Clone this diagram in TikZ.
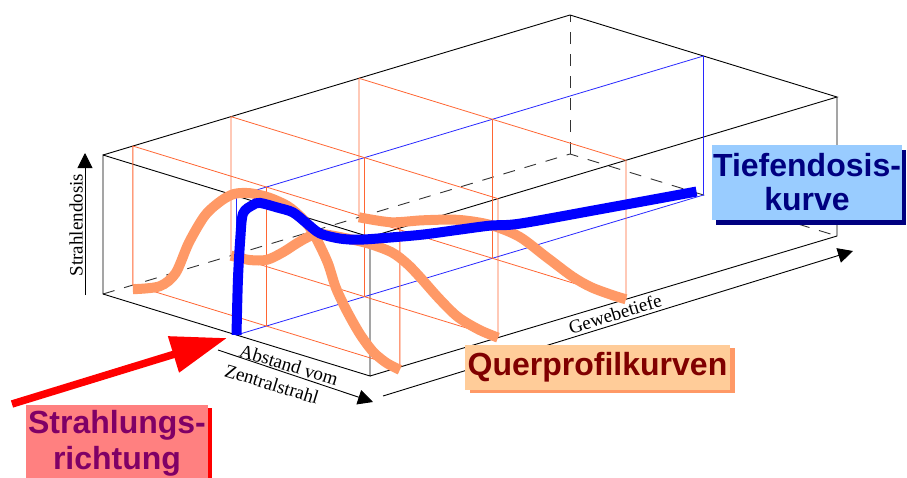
\documentclass[tikz,border=0pt]{standalone}
\usepackage{fontspec}
\setmainfont{Liberation Serif}
\newfontfamily\tagfont{Liberation Sans}
\usetikzlibrary{arrows.meta,shadows}

\definecolor{profile}{RGB}{255,153,102}
\definecolor{cutline}{RGB}{255,102,51}
\definecolor{planeblue}{RGB}{40,40,255}
\definecolor{querfill}{RGB}{255,204,153}
\definecolor{quertext}{RGB}{128,0,0}
\definecolor{tiefefill}{RGB}{153,204,255}
\definecolor{tiefetext}{RGB}{0,0,128}
\definecolor{strahlfill}{RGB}{255,128,128}
\definecolor{strahltext}{RGB}{128,0,102}

\begin{document}
\begin{tikzpicture}[
  x=1pt, y=-1pt,
  edge/.style={black, line width=0.9pt},
  hidden/.style={black!80, line width=0.9pt, dash pattern=on 12pt off 10pt},
  cutplane/.style={cutline, line width=0.8pt},
  axisplane/.style={planeblue, line width=0.8pt},
  profilecurve/.style={profile, line width=10pt},
  dosecurve/.style={blue, line width=10pt},
  axis/.style={black, line width=0.9pt, -{Triangle[length=15pt, width=15pt]}},
  axislabel/.style={font=\fontsize{19}{21}\selectfont, inner sep=0pt},
  tag/.style={font=\tagfont\bfseries\fontsize{32}{34}\selectfont, align=center, inner sep=0pt},
  beam/.style={red, line width=7.5pt, -{Triangle[length=56pt, width=36pt]}}
]
\useasboundingbox (0,0) rectangle (907,477);

% phantom in its own frame: x across the beam, y dose, z depth
\begin{scope}[shift={(103,294)}, x={(267pt,-82pt)}, y={(0pt,139pt)}, z={(467pt,140pt)}]
  \coordinate (flb) at (0,0,0);
  \coordinate (frb) at (1,0,0);
  \coordinate (flt) at (0,1,0);
  \coordinate (frt) at (1,1,0);
  \coordinate (blb) at (0,0,1);
  \coordinate (brb) at (1,0,1);
  \coordinate (blt) at (0,1,1);
  \coordinate (brt) at (1,1,1);

  % hidden edges
  \draw[hidden] (flb) -- (blb) -- (brb);
  \draw[hidden] (blb) -- (blt);
  \draw[edge] (flb) -- (frb) -- (frt) -- (flt) -- cycle;
  \draw[edge] (flt) -- (blt) -- (brt) -- (frt);
  \draw[edge] (brt) -- (brb) -- (frb);

  % central plane along the beam
  \draw[axisplane] (0.5,0,0) -- (0.5,0,1) -- (0.5,1,1) -- (0.5,1,0) -- cycle;

  % cross sections
  \foreach \d in {0.064,0.274,0.548} {
    \draw[cutplane] (0,0,\d) -- (1,0,\d) -- (1,1,\d) -- (0,1,\d) -- cycle;
    \draw[cutplane] (0.5,0,\d) -- (0.5,1,\d);
  }

  \draw[profilecurve] plot[smooth] coordinates {(0,0,0.548) (0.12,0.035,0.548) (0.24,0.12,0.548)
    (0.37,0.2,0.548) (0.49,0.235,0.548) (0.6,0.215,0.548) (0.7,0.13,0.548) (0.8,0.045,0.548)
    (0.87,0.01,0.548) (0.95,0,0.548) (1,0,0.548)};
  \draw[profilecurve] plot[smooth] coordinates {(0,0,0.274) (0.07,0.01,0.274) (0.135,0.05,0.274)
    (0.195,0.14,0.274) (0.25,0.24,0.274) (0.3,0.32,0.274) (0.35,0.36,0.274) (0.5,0.39,0.274)
    (0.6,0.38,0.274) (0.66,0.33,0.274) (0.71,0.26,0.274) (0.78,0.15,0.274) (0.85,0.06,0.274)
    (0.93,0.015,0.274) (1,0,0.274)};
  \draw[profilecurve] plot[smooth] coordinates {(0,-0.03,0.064) (0.1,0.05,0.064) (0.16,0.18,0.064)
    (0.21,0.43,0.064) (0.27,0.66,0.064) (0.33,0.8,0.064) (0.38,0.88,0.064) (0.44,0.92,0.064)
    (0.51,0.93,0.064) (0.58,0.91,0.064) (0.63,0.86,0.064) (0.66,0.81,0.064) (0.69,0.73,0.064)
    (0.73,0.59,0.064) (0.76,0.43,0.064) (0.8,0.29,0.064) (0.85,0.15,0.064) (0.9,0.05,0.064)
    (0.95,0,0.064) (1,-0.02,0.064)};

  % depth dose along the central ray
  \draw[dosecurve] plot[smooth, tension=0.5] coordinates {(0.5,0,0) (0.5,0.39,0.003)
    (0.5,0.68,0.008) (0.5,0.86,0.014) (0.5,0.9,0.035) (0.5,0.9,0.05) (0.5,0.83,0.087)
    (0.5,0.76,0.121) (0.5,0.65,0.151) (0.5,0.55,0.179) (0.5,0.47,0.222) (0.5,0.42,0.264)
    (0.5,0.37,0.329) (0.5,0.32,0.4) (0.5,0.28,0.472) (0.5,0.24,0.543) (0.5,0.19,0.607)
    (0.5,0.12,0.78) (0.5,0.04,0.985)};
\end{scope}

% axes
\coordinate (doseA) at (85,295);
\coordinate (doseB) at (85,153);
\draw[axis] (doseA) -- (doseB);
\node[axislabel, rotate=90] (doselabel) at (76,225) {Strahlendosis};

\coordinate (latA) at (218,350);
\coordinate (latB) at (373,402);
\draw[axis] (latA) -- (latB);
\node[axislabel, rotate=-17, anchor=base] (latlabelA) at (287,371) {Abstand vom};
\node[axislabel, rotate=-17] (latlabelB) at (272,384) {Zentralstrahl};

\coordinate (depthA) at (383,396);
\coordinate (depthB) at (853,251);
\draw[axis] (depthA) -- (depthB);
\node[axislabel, rotate=17, anchor=base] (depthlabel) at (617,320) {Gewebetiefe};

% beam direction
\coordinate (beamA) at (12,404);
\coordinate (beamB) at (227,338);
\draw[beam] (beamA) -- (beamB);

% captions
\node[tag, fill=tiefefill, text=tiefetext, minimum width=190pt, minimum height=75pt,
  drop shadow={shadow xshift=4pt, shadow yshift=-5pt, fill=tiefetext, opacity=1}]
  (tiefe) at (807,182.5) {Tiefendosis-\\kurve};
\node[tag, fill=querfill, text=quertext, minimum width=265pt, minimum height=45pt,
  drop shadow={shadow xshift=5pt, shadow yshift=-3pt, fill=profile, opacity=1}]
  (quer) at (597.5,367.5) {Querprofilkurven};
\node[tag, font=\tagfont\bfseries\fontsize{32}{36}\selectfont, fill=strahlfill, text=strahltext,
  minimum width=182pt, minimum height=77pt,
  drop shadow={shadow xshift=4pt, shadow yshift=-3pt, fill=red, opacity=1}]
  (strahl) at (117,443.5) {Strahlungs-\\richtung};
\end{tikzpicture}
\end{document}
